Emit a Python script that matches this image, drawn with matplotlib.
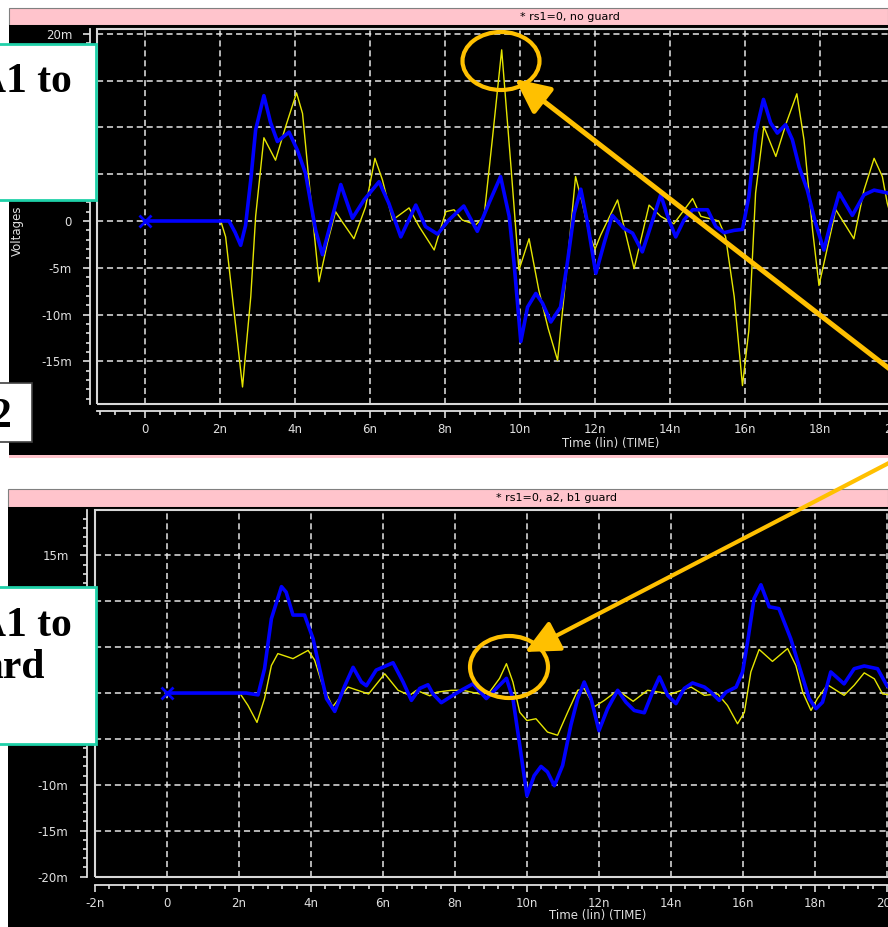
import matplotlib.pyplot as plt
from matplotlib.patches import Rectangle, Ellipse, FancyArrowPatch
from matplotlib.ticker import MultipleLocator, FixedLocator, FuncFormatter

W, H = 888, 927

# top scope: "* rs1=0, no guard"   (time in ns, voltage in mV)
top_yel_t = [0, 2.02, 2.15, 2.33, 2.6, 2.82, 2.95, 3.17, 3.48, 3.75, 4.04, 4.2, 4.37, 4.64, 4.86,
             5.08, 5.26, 5.57, 5.88, 6.13, 6.33, 6.6, 7.04, 7.31, 7.71, 8.02, 8.24, 8.46, 8.82,
             9.04, 9.26, 9.51, 9.75, 9.97, 10.24, 10.5, 10.75, 11.0, 11.26, 11.48, 11.66, 11.85,
             12.0, 12.15, 12.6, 13.04, 13.44, 13.75, 14.1, 14.6, 14.82, 15.3, 15.48, 15.71,
             15.93, 16.1, 16.28, 16.5, 16.82, 17.1, 17.38, 17.57, 17.8, 17.97, 18.2, 18.42,
             18.9, 19.17, 19.44, 19.66, 19.79, 20.0]
top_yel_v = [0, 0, -1.7, -8.1, -17.75, -8.1, 0.5, 8.9, 6.5, 10.1, 13.7, 11.5, 4.4, -6.5, -2.4,
             1.0, -0.1, -1.9, 1.5, 6.7, 4.4, 0.1, 1.4, -0.6, -3.1, 1.0, 1.2, 0.1, -0.4,
             0.5, 8.7, 18.3, 6.2, -5.25, -1.9, -7.4, -11.5, -14.9, -4.5, 4.75, 1.9, -1.5,
             -3.0, -1.5, 2.25, -5.1, 1.7, 0.5, -0.3, 2.4, 0.5, 0.0, -1.7, -8.1,
             -17.6, -11.7, 3.0, 10.1, 6.9, 10.5, 13.6, 8.7, -1.0, -6.9, -2.75, 1.2,
             -1.9, 3.3, 6.7, 4.75, 1.9, -1.0]
top_blu_t = [0, 2.24, 2.4, 2.55, 2.68, 2.82, 2.95, 3.17, 3.35, 3.53, 3.84, 4.06, 4.28, 4.42, 4.55,
             4.73, 5.0, 5.22, 5.53, 5.84, 6.24, 6.5, 6.82, 7.22, 7.48, 7.8, 8.1, 8.5, 8.86,
             9.17, 9.48, 9.71, 9.84, 10.02, 10.2, 10.42, 10.6, 10.82, 11.08, 11.26, 11.44, 11.62,
             11.8, 12.02, 12.24, 12.46, 12.77, 13.0, 13.26, 13.48, 13.75, 13.97, 14.15, 14.37,
             14.6, 15.0, 15.22, 15.44, 15.71, 15.93, 16.1, 16.28, 16.49, 16.68, 16.86, 17.08,
             17.26, 17.44, 17.66, 17.88, 18.1, 18.28, 18.51, 18.86, 19.17, 19.44, 19.79, 20.1]
top_blu_v = [0, 0, -1.2, -2.6, -0.5, 4.4, 9.75, 13.4, 10.5, 8.5, 9.5, 7.6, 5.1, 1.9, -1.0,
             -3.6, 0.5, 3.9, 0.3, 2.25, 4.2, 1.9, -1.7, 1.7, -0.6, -1.4, 0.1, 1.6, -1.1,
             1.9, 4.75, 0.5, -4.5, -12.9, -9.2, -7.75, -8.8, -10.8, -9.2, -4.5, 0.8, 3.4,
             -0.25, -5.6, -2.4, 0.6, -0.8, -1.3, -3.3, -0.6, 2.8, 0.1, -1.7, 0.1,
             1.2, 1.2, -0.6, -1.25, -1.0, -0.9, 2.6, 9.4, 13.0, 10.5, 9.4, 10.3,
             8.7, 5.8, 3.3, -0.25, -3.1, -0.25, 3.0, 0.6, 2.8, 3.3, 3.0, 2.8]

# bottom scope: "* rs1=0, a2, b1 guard"
bot_yel_t = [0, 2.02, 2.25, 2.5, 2.71, 2.9, 3.08, 3.5, 3.92, 4.1, 4.29, 4.6, 5.03, 5.6, 6.05,
             6.42, 6.74, 6.93, 7.3, 7.5, 7.9, 8.22, 8.69, 8.96, 9.24, 9.43, 9.61, 9.8, 10.0,
             10.25, 10.57, 10.85, 11.13, 11.41, 11.59, 11.87, 12.15, 12.52, 12.95, 13.35, 14.0,
             14.56, 14.93, 15.3, 15.57, 15.85, 16.04, 16.22, 16.45, 16.82, 17.24, 17.47, 17.66,
             17.89, 18.07, 18.35, 18.81, 19.09, 19.37, 19.65, 19.88, 20.3]
bot_yel_v = [0, 0, -1.35, -3.2, -0.6, 3.0, 4.3, 3.75, 4.65, 3.6, 1.2, -1.5, 0.65, -0.1, 2.1,
             0.3, -0.25, 0.3, -0.3, 0.1, 0.3, 0.3, -0.1, 0.1, 1.6, 3.2, 1.2, -2.1, -3.0,
             -2.8, -4.25, -4.6, -2.1, 0.3, 0.5, -1.5, -0.8, 0.3, -0.9, 0.3, -0.1,
             0.65, -0.25, -0.1, -1.35, -3.35, -2.1, 2.3, 4.75, 3.45, 4.85, 3.0, 0.1,
             -1.9, -0.6, 0.9, -0.25, 0.85, 2.2, 1.55, -0.1, -0.3]
bot_blu_t = [0, 2.2, 2.53, 2.71, 2.9, 3.18, 3.31, 3.5, 3.82, 4.06, 4.24, 4.43, 4.66, 4.94, 5.17,
             5.4, 5.54, 5.81, 6.28, 6.56, 6.79, 7.02, 7.25, 7.39, 7.62, 7.94, 8.22, 8.5, 8.87,
             9.15, 9.43, 9.61, 9.8, 10.0, 10.2, 10.39, 10.57, 10.76, 10.99, 11.22, 11.41, 11.59,
             11.78, 12.0, 12.24, 12.52, 12.75, 12.98, 13.26, 13.49, 13.68, 13.91, 14.14, 14.37,
             14.6, 14.93, 15.11, 15.34, 15.53, 15.81, 15.99, 16.13, 16.31, 16.5, 16.73, 17.0,
             17.33, 17.61, 17.84, 18.03, 18.21, 18.44, 18.81, 19.09, 19.37, 19.74, 20.0, 20.3]
bot_blu_v = [0, 0, -0.2, 2.65, 8.1, 11.6, 11.0, 8.5, 8.5, 5.9, 2.65, -0.6, -2.0, 0.8, 2.8,
             1.2, 0.8, 2.5, 3.3, 1.2, -0.8, 0.5, 0.9, -0.1, -1.05, -0.25, 0.4, 1.0, -0.6,
             0.5, 1.6, -0.6, -5.7, -11.2, -9.0, -8.0, -8.6, -10.1, -7.9, -3.5, -0.6, 1.2,
             -0.6, -4.1, -1.7, 0.3, -1.0, -1.9, -2.15, 0.1, 1.75, -0.25, -1.15, 0.5,
             1.1, 0.65, 0.1, -0.8, 0.1, 0.65, 2.3, 5.6, 10.3, 11.8, 9.4, 9.2,
             5.9, 2.3, -0.6, -1.7, -1.0, 2.3, 1.0, 2.65, 2.95, 2.65, 0.8, 0.0]

titles = ['* rs1=0, no guard', '* rs1=0, a2, b1 guard']


def fx(x):
    return x / W


def fy(y):
    return 1 - y / H


def rect(x0, y0, x1, y1, fc, ec='none', lw=0, z=-5):
    fig.add_artist(Rectangle((fx(x0), fy(y1)), (x1 - x0) / W, (y1 - y0) / H,
                             transform=fig.transFigure, facecolor=fc, edgecolor=ec,
                             lw=lw, zorder=z))


def scope(l, t, r, b, xlim, ylim, t_y, v_y, t_b, v_b, off, hidden):
    ax = fig.add_axes([fx(l), fy(b), (r - l) / W, (b - t) / H])
    ax.set_facecolor('black')
    ax.set_xlim(xlim)
    ax.set_ylim(ylim)
    ax.xaxis.set_major_locator(FixedLocator(range(-2, 21, 2)))
    ax.xaxis.set_minor_locator(MultipleLocator(0.4))
    ax.yaxis.set_major_locator(MultipleLocator(5))
    ax.yaxis.set_minor_locator(MultipleLocator(1))
    ax.xaxis.set_major_formatter(FuncFormatter(lambda v, p: '0' if abs(v) < 1e-9 else '%dn' % round(v)))

    def ylab(v, p):
        # labels that sit under the white note boxes are not visible
        if round(v) in hidden:
            return ''
        return '0' if abs(v) < 1e-9 else '%dm' % round(v)
    ax.yaxis.set_major_formatter(FuncFormatter(ylab))
    ax.grid(True, which='major', color='#e6e6e6', lw=1.1, ls=(0, (4, 2.5)))
    ax.spines['top'].set_visible(False)
    ax.spines['right'].set_visible(False)
    for s in ['left', 'bottom']:
        ax.spines[s].set_position(('outward', off))
        ax.spines[s].set_color('#e0e0e0')
        ax.spines[s].set_linewidth(1.3)
    ax.tick_params(which='both', colors='#e0e0e0', direction='out', width=1.2, labelsize=8.5)
    ax.tick_params(which='major', length=5)
    ax.tick_params(which='minor', length=3)
    ax.tick_params(axis='y', pad=8)
    ax.add_patch(Rectangle((0, 0), 1, 1, transform=ax.transAxes, fill=False,
                           edgecolor='#d8d8d8', lw=1.5, clip_on=False, zorder=3))
    ax.plot(t_y, v_y, color='#e6e600', lw=1.0, zorder=4, solid_joinstyle='round')
    ax.plot(t_b, v_b, color='#0000ff', lw=2.6, zorder=5, solid_joinstyle='round')
    ax.plot([0], [0], marker='x', color='#0000ff', ms=8, mew=2, zorder=6)
    return ax


fig = plt.figure(figsize=(W / 100, H / 100), dpi=100)
fig.patch.set_facecolor('white')

# window frames
rect(9, 8, 888, 25, '#ffc4cc', '#808080', 0.8)
rect(9, 25, 888, 455, 'black')
rect(9, 455, 888, 458, '#ffc4cc')
rect(8, 489, 888, 507, '#ffc4cc', '#808080', 0.8)
rect(8, 507, 888, 927, 'black')

scope(97, 29, 960, 404, (-1.28, 21.73), (-19.57, 20.53),
      top_yel_t, top_yel_v, top_blu_t, top_blu_v, 5, {5, 10, 15})
scope(95, 510, 960, 877, (-2.0, 22.03), (-20.05, 19.95),
      bot_yel_t, bot_yel_v, bot_blu_t, bot_blu_v, 6, {10, 5, 0, -5})

fig.text(fx(570), fy(17), titles[0], ha='center', va='center', fontsize=8)
fig.text(fx(556), fy(498), titles[1], ha='center', va='center', fontsize=8)
fig.text(fx(611), fy(443), 'Time (lin) (TIME)', ha='center', va='center', fontsize=8.5, color='#e0e0e0')
fig.text(fx(598), fy(916), 'Time (lin) (TIME)', ha='center', va='center', fontsize=8.5, color='#e0e0e0')
fig.text(fx(17), fy(231), 'Voltages', ha='center', va='center', rotation=90, fontsize=8.5, color='#e0e0e0')

# annotation boxes on the left
teal = '#1fd0a8'
serif = dict(family='Liberation Serif', weight='bold', fontsize=30, ha='right', va='baseline', zorder=9)
rect(-5, 44, 96, 200, 'white', teal, 2, 8)
fig.text(fx(72), fy(92), 'A1 to', **serif)
rect(-5, 383, 32, 442, 'white', '#404040', 1.2, 8)
fig.text(fx(11), fy(427), '2', **serif)
rect(-5, 587, 96, 744, 'white', teal, 2, 8)
fig.text(fx(72), fy(636), 'A1 to', **serif)
fig.text(fx(45), fy(678), 'ard', **serif)

# highlight circles and arrows
gold = '#ffc000'
fig.add_artist(Ellipse((fx(501), fy(61)), 77 / W, 58 / H, transform=fig.transFigure,
                       fill=False, edgecolor=gold, lw=3, zorder=10))
fig.add_artist(Ellipse((fx(509), fy(667)), 78 / W, 62 / H, transform=fig.transFigure,
                       fill=False, edgecolor=gold, lw=3, zorder=10))
src = (fx(962), fy(425))
for tip, lw in [((515, 79), 3.6), ((525, 652), 3.0)]:
    fig.add_artist(FancyArrowPatch(src, (fx(tip[0]), fy(tip[1])), transform=fig.transFigure,
                                   arrowstyle='-|>,head_length=21,head_width=10',
                                   mutation_scale=1, color=gold, lw=lw, zorder=11,
                                   shrinkA=0, shrinkB=0))

fig.savefig('out.png', dpi=100)
